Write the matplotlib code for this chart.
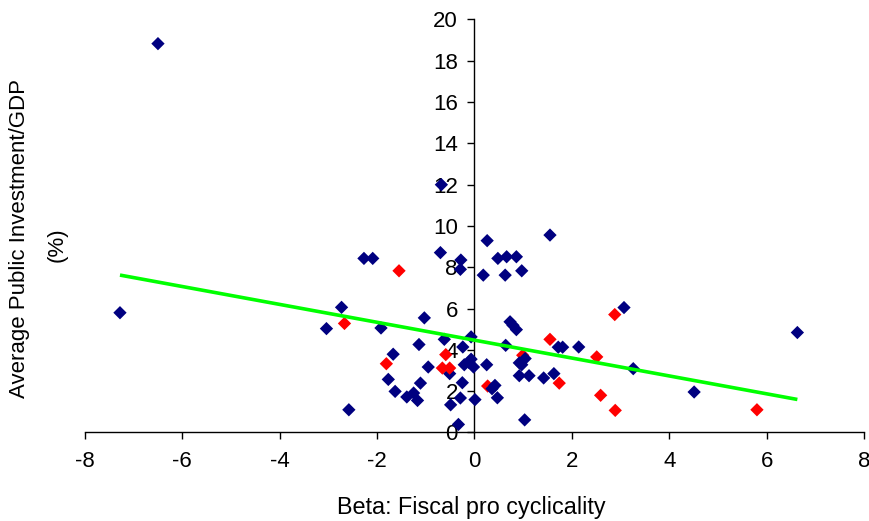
import matplotlib
matplotlib.use("Agg")
import matplotlib.pyplot as plt
import numpy as np

plt.rcParams['font.family'] = ['Liberation Sans', 'DejaVu Sans']
plt.rcParams['axes.unicode_minus'] = False

# Data: beta (fiscal pro-cyclicality), average public investment/GDP, group (0 = blue, 1 = red)
beta = [0.27, 0.99,
        -6.50, -7.28, -3.04, -2.73, -2.58, -2.27, -2.09, -1.92, -1.67, -1.77,
        -1.63, -1.39, -1.25, -1.17, -1.14, -1.11, -1.03, -0.95, -0.68, -0.70,
        -0.62, -0.51, -0.49, -0.33, -0.28, -0.29, -0.24, -0.25, -0.29, -0.21,
        -0.12, -0.07, -0.02, -0.07, 0.01, 0.18, 0.26, 0.25, 0.36, 0.42,
        0.47, 0.48, 0.63, 0.66, 0.64, 0.73, 0.79, 0.86, 0.86, 0.97,
        0.92, 0.97, 1.04, 0.92, 1.03, 1.12, 1.42, 1.55, 1.63, 1.72,
        1.81, 2.14, 3.07, 3.26, 4.51, 6.63,
        -2.67, -1.81, -1.55, -0.59, -0.66, -0.51, 1.55, 1.74, 2.51, 2.59,
        2.89, 2.88, 5.80]
invest = [2.25, 3.74,
          18.83, 5.80, 5.03, 6.06, 1.10, 8.43, 8.43, 5.06, 3.79, 2.57,
          1.99, 1.72, 1.91, 1.55, 4.26, 2.39, 5.55, 3.17, 12.00, 8.71,
          4.51, 2.85, 1.34, 0.39, 8.35, 7.90, 4.14, 2.41, 1.67, 3.28,
          3.40, 3.55, 3.17, 4.63, 1.59, 7.62, 9.29, 3.28, 2.12, 2.28,
          1.68, 8.43, 7.62, 8.51, 4.22, 5.36, 5.19, 4.98, 8.51, 7.83,
          3.37, 3.28, 3.58, 2.75, 0.61, 2.75, 2.64, 9.56, 2.85, 4.13,
          4.13, 4.14, 6.05, 3.09, 1.96, 4.84,
          5.28, 3.33, 7.83, 3.77, 3.12, 3.12, 4.51, 2.39, 3.66, 1.80,
          1.07, 5.71, 1.10]
group = [1, 1] + [0] * 66 + [1] * 13

# Linear trend line
trend_x = [-7.28, 6.63]
trend_intercept = 4.47
trend_slope = -0.433

x_ticks = [-8, -6, -4, -2, 0, 2, 4, 6, 8]
y_ticks = [0, 2, 4, 6, 8, 10, 12, 14, 16, 18, 20]

colors = {0: '#000080', 1: '#FF0000'}

fig = plt.figure(figsize=(8.70, 5.21), dpi=100)
ax = fig.add_axes([0.0976, 0.1699, 0.8956, 0.7927])

ax.scatter(beta, invest, c=[colors[g] for g in group], marker='D', s=46,
           linewidths=0, zorder=3)

tx = np.array(trend_x)
ax.plot(tx, trend_intercept + trend_slope * tx, color='#00FF00', lw=2.6,
        solid_capstyle='butt', zorder=4)

ax.set_xlim(-8, 8)
ax.set_ylim(0, 20)
ax.set_xticks(x_ticks)
ax.set_yticks(y_ticks)
ax.set_xticklabels([str(v) for v in x_ticks])
ax.set_yticklabels([str(v) for v in y_ticks])

ax.spines['top'].set_visible(False)
ax.spines['right'].set_visible(False)
ax.spines['left'].set_position(('data', 0))
for sp in ('left', 'bottom'):
    ax.spines[sp].set_color('black')
    ax.spines[sp].set_linewidth(1.0)

ax.tick_params(axis='x', direction='out', length=5, width=1.0, pad=8.6,
               labelsize=16, colors='black')
ax.tick_params(axis='y', direction='out', length=5, width=1.0, pad=7,
               labelsize=16, colors='black')

fig.text(20 / 870, 1 - 238 / 521, 'Average Public Investment/GDP', rotation=90,
         ha='center', va='center', fontsize=16)
fig.text(57 / 870, 1 - 245 / 521, '(%)', rotation=90,
         ha='center', va='center', fontsize=16)
fig.text(471 / 870, 1 - 514 / 521, 'Beta: Fiscal pro cyclicality',
         ha='center', va='baseline', fontsize=16.8)

fig.savefig('out.png', dpi=100, facecolor='white')
